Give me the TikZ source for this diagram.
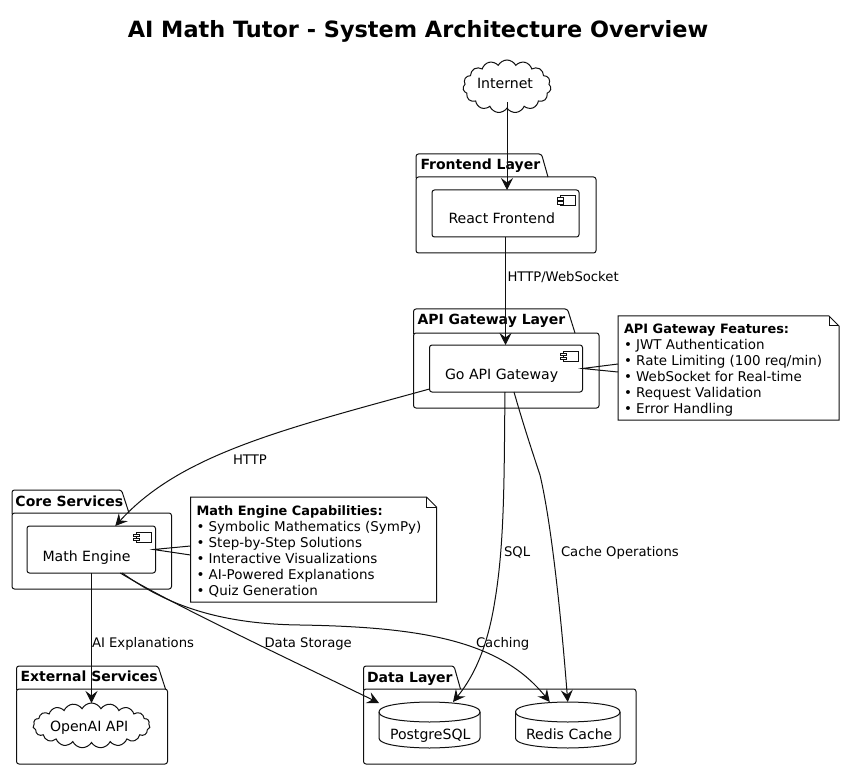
\documentclass[tikz,border=0pt]{standalone}
\usepackage{fontspec}
\setmainfont{DejaVu Sans}
\usetikzlibrary{arrows.meta,shapes.symbols,calc}
\definecolor{ink}{HTML}{101010}
\tikzset{
  x=1pt,y=-1pt,
  every node/.style={text=black,outer sep=0pt},
  edge/.style={draw=ink,line width=1pt},
  flow/.style={edge,-{Stealth[length=12pt,width=12pt,inset=4.5pt]}},
  boxline/.style={draw=ink,line width=1pt},
  sized/.style={inner sep=0pt,anchor=north west},
  txt/.style={inner sep=0pt,anchor=base west,font=\fontsize{14.1}{16}\selectfont},
  lbl/.style={inner sep=0pt,anchor=base west,font=\fontsize{13.2}{15}\selectfont},
  pkgt/.style={inner sep=0pt,anchor=base west,font=\fontsize{14}{16}\selectfont\bfseries},
  notet/.style={inner sep=0pt,anchor=north west,align=left,font=\fontsize{13.45}{15.9}\selectfont},
  cloudn/.style={cloud,boxline,fill=white,cloud puffs=15,cloud puff arc=125,cloud ignores aspect,inner sep=0pt},
}
\newcommand{\notehead}[1]{{\fontsize{12.9}{15.9}\selectfont\bfseries #1}}
% name x1 ytop yhdr x2 y2 tabright slopeend
\newcommand{\pkgbox}[8]{%
  \node[sized,boxline,rounded corners=2.5pt,minimum width={(#5-#2)*1pt},minimum height={(#6-#4)*1pt}] (#1) at (#2,#4) {};
  \draw[boxline,rounded corners=2.5pt] (#2,#4+1) -- (#2,#3) -- (#7,#3) -- (#8,#4);
}
\newcommand{\compbox}[5]{%
  \node[sized,boxline,rounded corners=2.5pt,minimum width={(#4-#2)*1pt},minimum height={(#5-#3)*1pt}] (#1) at (#2,#3) {};
  \draw[boxline,fill=white] (#4-19,#3+6) rectangle (#4-4,#3+16);
  \draw[boxline,fill=white] (#4-22,#3+8) rectangle (#4-16,#3+10.5);
  \draw[boxline,fill=white] (#4-22,#3+12) rectangle (#4-16,#3+14.5);
}
\newcommand{\notebox}[5]{%
  \node[sized,minimum width={(#4-#2)*1pt},minimum height={(#5-#3)*1pt}] (#1) at (#2,#3) {};
  \draw[boxline,fill=white] (#2,#3) -- (#4-10,#3) -- (#4,#3+10) -- (#4,#5) -- (#2,#5) -- cycle;
  \draw[boxline] (#4-10,#3) -- (#4-10,#3+10) -- (#4,#3+10);
}
\newcommand{\dbshape}[5]{%
  \node[sized,minimum width={(#4-#2)*1pt},minimum height={(#5-#3)*1pt}] (#1) at (#2,#3) {};
  \pgfmathsetmacro{\xm}{(#2+#4)/2}
  \draw[boxline,fill=white] (#2,#3+10) .. controls (#2,#3) and (\xm,#3) .. (\xm,#3)
     .. controls (\xm,#3) and (#4,#3) .. (#4,#3+10) -- (#4,#5-10)
     .. controls (#4,#5) and (\xm,#5) .. (\xm,#5)
     .. controls (\xm,#5) and (#2,#5) .. (#2,#5-10) -- cycle;
  \draw[boxline] (#2,#3+10) .. controls (#2,#3+20) and (\xm,#3+20) .. (\xm,#3+20)
     .. controls (\xm,#3+20) and (#4,#3+20) .. (#4,#3+10);
}
\begin{document}
\begin{tikzpicture}
\useasboundingbox (0,0) rectangle (844,770);
\fill[white] (0,0) rectangle (844,770);

\node[inner sep=0pt,anchor=base,font=\fontsize{22.4}{26}\selectfont\bfseries] (title) at (418,38) {AI Math Tutor - System Architecture Overview};

% packages
\pkgbox{fe}{416}{154}{177}{596}{253}{541.5}{548}
\pkgbox{api}{413.5}{309}{333}{599}{408}{567.5}{575}
\pkgbox{core}{12}{490}{513}{171.5}{589}{121.5}{129}
\pkgbox{ext}{16.5}{666}{689}{167.5}{764}{158}{165.5}
\pkgbox{data}{363.5}{666}{689}{636}{764}{454}{460.5}
\node[pkgt] (fet) at (420.5,170) {Frontend Layer};
\node[pkgt] (apit) at (417.5,325) {API Gateway Layer};
\node[pkgt] (coret) at (15.5,506.5) {Core Services};
\node[pkgt] (extt) at (20.5,681.5) {External Services};
\node[pkgt] (datat) at (367,682) {Data Layer};

% components
\compbox{react}{432}{190}{579}{237}
\compbox{go}{429.5}{345}{582.5}{392}
\compbox{math}{27}{526}{155.5}{573}
\node[txt] (reactt) at (448.5,224) {React Frontend};
\node[txt] (got) at (445,379) {Go API Gateway};
\node[txt] (matht) at (42.5,561) {Math Engine};

% clouds
\node[cloudn,minimum width=88pt,minimum height=53pt] (inet) at (507,86.5) {};
\node[cloudn,minimum width=117pt,minimum height=45pt,cloud puffs=19] (openai) at (91.5,725.5) {};
\node[txt] (inett) at (477,89) {Internet};
\node[txt] (openait) at (50,731.5) {OpenAI API};

% databases
\dbshape{pg}{379}{702}{480}{748}
\dbshape{redis}{515.5}{702}{620}{748}
\node[txt] (pgt) at (390,739) {PostgreSQL};
\node[txt] (redist) at (526,739) {Redis Cache};

% notes
\notebox{apinote}{618}{316}{839}{420}
\notebox{mathnote}{190.5}{497}{436.5}{602}
\node[notet] (apinotet) at (624,324) {\notehead{API Gateway Features:}\\• JWT Authentication\\• Rate Limiting (100 req/min)\\• WebSocket for Real-time\\• Request Validation\\• Error Handling};
\node[notet] (mathnotet) at (196.5,506) {\notehead{Math Engine Capabilities:}\\• Symbolic Mathematics (SymPy)\\• Step-by-Step Solutions\\• Interactive Visualizations\\• AI-Powered Explanations\\• Quiz Generation};

% note links
\draw[edge] ([yshift=4pt]apinote.west) -- (go.east) -- ([yshift=-4pt]apinote.west);
\draw[edge] ([yshift=3.5pt]mathnote.west) -- ([xshift=-2pt]math.east) -- ([yshift=-5.5pt]mathnote.west);

% connectors
\draw[flow] ([yshift=6pt]inet.south) -- (inet.south |- react.north);
\draw[flow] (react.south) -- (react.south |- go.north);
\draw[flow] ([yshift=3pt]go.south west) .. controls (280,430) and (180,455) .. ([xshift=24pt]math.north);
\draw[flow] ([xshift=-1pt]go.south) .. controls (504,470) and (505,540) .. (495,600) .. controls (488,645) and (475,675) .. ([xshift=23.5pt]pg.north);
\draw[flow] ([xshift=8pt]go.south) .. controls (522,420) and (530,445) .. (540,475) .. controls (553,530) and (563,640) .. (redis.north);
\draw[flow] (math.south -| openai.north) -- (openai.north);
\draw[flow] ([xshift=29pt]math.south) .. controls (170,603) and (270,650) .. ([yshift=-1pt]pg.north west);
\draw[flow] ([xshift=31pt]math.south) .. controls (160,600) and (210,624) .. (300,625) .. controls (420,627) and (500,640) .. ([xshift=-18pt]redis.north);

% labels
\node[lbl] (l1) at (507.5,282) {HTTP/WebSocket};
\node[lbl] (l2) at (233,464.5) {HTTP};
\node[lbl] (l3) at (504,556) {SQL};
\node[lbl] (l4) at (561,556) {Cache Operations};
\node[lbl] (l5) at (92,647) {AI Explanations};
\node[lbl] (l6) at (264.5,647) {Data Storage};
\node[lbl] (l7) at (476,647) {Caching};
\end{tikzpicture}
\end{document}
